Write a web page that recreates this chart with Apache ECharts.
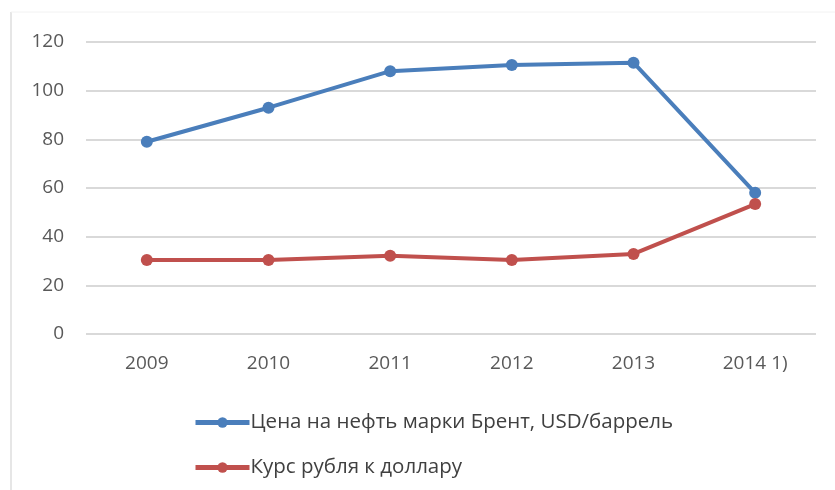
<!DOCTYPE html>
<html>
<head>
<meta charset="utf-8">
<script src="https://cdn.jsdelivr.net/npm/echarts@6/dist/echarts.min.js"></script>
<style>
  html, body { margin: 0; padding: 0; background: #fff; }
  #chart { width: 835px; height: 490px; }
</style>
</head>
<body>
<div id="chart"></div>
<script>
const years = ["2009", "2010", "2011", "2012", "2013", "2014 1)"];
const brent = [79, 93, 108, 110.5, 111.5, 58];
const rubleRate = [30.4, 30.4, 32.2, 30.4, 32.9, 53.4];
const brentName = "Цена на нефть марки Брент, USD/баррель";
const rubleName = "Курс рубля к доллару";

const chart = echarts.init(document.getElementById("chart"));
const font = "'Open Sans', 'Liberation Sans', sans-serif";

chart.setOption({
  animation: false,
  textStyle: { fontFamily: font },
  color: ["#4a7ebb", "#c0504d"],
  grid: { left: 86, right: 19, top: 42, bottom: 156 },
  legend: {
    orient: "vertical",
    left: 188,
    top: 407,
    itemGap: 24,
    itemWidth: 54,
    itemHeight: 13,
    lineStyle: { width: 5 },
    textStyle: { fontSize: 20.5, color: "#404040", fontFamily: font, padding: [0, 0, 0, -4] },
    data: [brentName, rubleName]
  },
  xAxis: {
    type: "category",
    data: years,
    axisLine: { show: false },
    axisTick: { show: false },
    axisLabel: { fontSize: 19, color: "#595959", margin: 20 }
  },
  yAxis: {
    type: "value",
    min: 0,
    max: 120,
    interval: 20,
    axisLine: { show: false },
    axisTick: { show: false },
    axisLabel: { fontSize: 19, color: "#595959", margin: 22 },
    splitLine: { lineStyle: { color: "#d9d9d9", width: 2 } }
  },
  series: [
    {
      name: brentName,
      type: "line",
      data: brent,
      symbol: "circle",
      symbolSize: 12,
      lineStyle: { width: 4 }
    },
    {
      name: rubleName,
      type: "line",
      data: rubleRate,
      symbol: "circle",
      symbolSize: 12,
      lineStyle: { width: 4 }
    }
  ],
  graphic: [
    {
      type: "line",
      shape: { x1: 11, y1: 12, x2: 11, y2: 490 },
      style: { stroke: "#e6e6e6", lineWidth: 2 }
    },
    {
      type: "line",
      shape: { x1: 11, y1: 12, x2: 835, y2: 12 },
      style: { stroke: "#f2f2f2", lineWidth: 1 }
    }
  ]
});
</script>
</body>
</html>
